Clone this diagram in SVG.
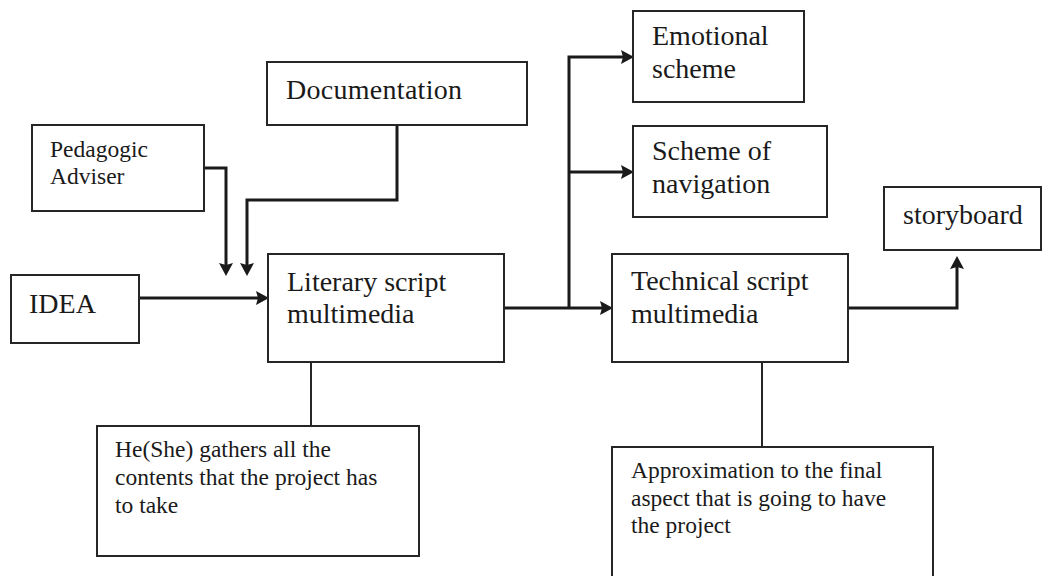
<svg xmlns="http://www.w3.org/2000/svg" width="1043" height="576" viewBox="0 0 1043 576">
  <style>
    .box { fill: #ffffff; stroke: #262626; stroke-width: 2; }
    .t { font-family: "Liberation Serif", "Times New Roman", serif; fill: #1a1a1a; }
    .big { font-size: 28px; }
    .small { font-size: 23.5px; }
    .conn { fill: none; stroke: #1a1a1a; stroke-width: 3; }
    .thin { fill: none; stroke: #262626; stroke-width: 2; }
  </style>
  <defs>
    <marker id="arrow" markerUnits="userSpaceOnUse" markerWidth="14" markerHeight="14" refX="6" refY="7" orient="auto" viewBox="0 0 13 14">
      <path d="M0,0 L13,7 L0,14 L2,7 z" fill="#1a1a1a"/>
    </marker>
  </defs>
  <rect width="1043" height="576" fill="#ffffff"/>

  <g id="connectors">
    <path class="conn" d="M204,168 H226 V269" marker-end="url(#arrow)"/>
    <path class="conn" d="M397,125 V200 H247 V269" marker-end="url(#arrow)"/>
    <path class="conn" d="M139,298 H262" marker-end="url(#arrow)"/>
    <path class="conn" d="M504,308 H606" marker-end="url(#arrow)"/>
    <path class="conn" d="M569,308 V57 H627" marker-end="url(#arrow)"/>
    <path class="conn" d="M569,172 H627" marker-end="url(#arrow)"/>
    <path class="conn" d="M848,308 H957 V263" marker-end="url(#arrow)"/>
    <path class="thin" d="M311,362 V426"/>
    <path class="thin" d="M762,362 V447"/>
  </g>

  <g id="pedagogic">
    <rect class="box" x="32" y="125" width="172" height="86"/>
    <text class="t small" x="50" y="157">Pedagogic</text>
    <text class="t small" x="50" y="184">Adviser</text>
  </g>

  <g id="documentation">
    <rect class="box" x="267" y="62" width="260" height="63"/>
    <text class="t big" x="286" y="99" textLength="176">Documentation</text>
  </g>

  <g id="idea">
    <rect class="box" x="11" y="275" width="128" height="68"/>
    <text class="t big" x="29" y="313">IDEA</text>
  </g>

  <g id="literary">
    <rect class="box" x="268" y="254" width="236" height="108"/>
    <text class="t big" x="287" y="291">Literary script</text>
    <text class="t big" x="287" y="323">multimedia</text>
  </g>

  <g id="emotional">
    <rect class="box" x="633" y="11" width="171" height="91"/>
    <text class="t big" x="652" y="45">Emotional</text>
    <text class="t big" x="652" y="78">scheme</text>
  </g>

  <g id="navigation">
    <rect class="box" x="633" y="126" width="194" height="91"/>
    <text class="t big" x="652" y="160">Scheme of</text>
    <text class="t big" x="652" y="193">navigation</text>
  </g>

  <g id="technical">
    <rect class="box" x="612" y="254" width="236" height="108"/>
    <text class="t big" x="631" y="290">Technical script</text>
    <text class="t big" x="631" y="323">multimedia</text>
  </g>

  <g id="storyboard">
    <rect class="box" x="884" y="187" width="157" height="63"/>
    <text class="t big" x="903" y="224">storyboard</text>
  </g>

  <g id="gathers">
    <rect class="box" x="97" y="426" width="322" height="130"/>
    <text class="t small" x="115" y="457">He(She) gathers all the</text>
    <text class="t small" x="115" y="485">contents that the project has</text>
    <text class="t small" x="115" y="513">to take</text>
  </g>

  <g id="approximation">
    <rect class="box" x="612" y="447" width="321" height="140"/>
    <text class="t small" x="631" y="478">Approximation to the final</text>
    <text class="t small" x="631" y="506">aspect that is going to have</text>
    <text class="t small" x="631" y="533">the project</text>
  </g>
</svg>
